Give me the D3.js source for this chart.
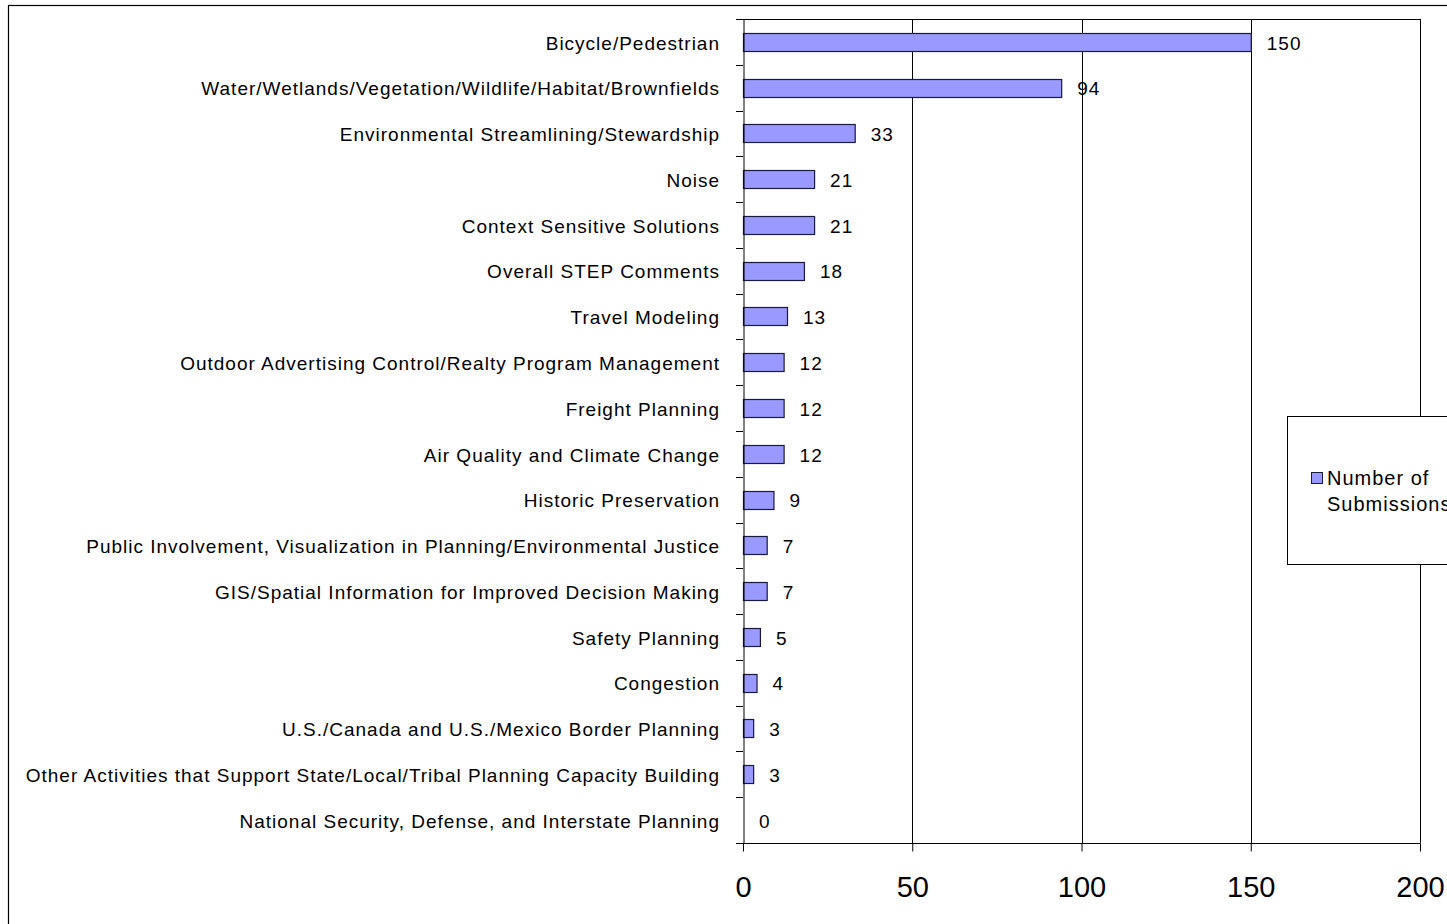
<!DOCTYPE html>
<html><head><meta charset="utf-8">
<script src="https://cdn.jsdelivr.net/npm/d3@7"></script>
<style>body{margin:0;background:#fff}svg{display:block}text{font-family:Arial,"Liberation Sans",sans-serif;fill:#000}</style>
</head><body>
<script>
const categories = [
 "Bicycle/Pedestrian",
 "Water/Wetlands/Vegetation/Wildlife/Habitat/Brownfields",
 "Environmental Streamlining/Stewardship",
 "Noise",
 "Context Sensitive Solutions",
 "Overall STEP Comments",
 "Travel Modeling",
 "Outdoor Advertising Control/Realty Program Management",
 "Freight Planning",
 "Air Quality and Climate Change",
 "Historic Preservation",
 "Public Involvement, Visualization in Planning/Environmental Justice",
 "GIS/Spatial Information for Improved Decision Making",
 "Safety Planning",
 "Congestion",
 "U.S./Canada and U.S./Mexico Border Planning",
 "Other Activities that Support State/Local/Tribal Planning Capacity Building",
 "National Security, Defense, and Interstate Planning"
];
const submissions = [150,94,33,21,21,18,13,12,12,12,9,7,7,5,4,3,3,0];
const xTicks = [0,50,100,150,200];
const seriesName = ["Number of", "Submissions"];

const W=1447,H=924;
const svg=d3.select("body").append("svg").attr("width",W).attr("height",H);
svg.append("rect").attr("x",8.5).attr("y",5.5).attr("width",1600).attr("height",1200)
  .attr("fill","#fff").attr("stroke","#000").attr("stroke-width",1.2);

const L=743,R=1420,T=19,B=843;
const x=d3.scaleLinear().domain([0,200]).range([L,R]);
const y=d3.scaleBand().domain(categories).range([T,B]).paddingInner(0.6).paddingOuter(0.3);
const band=d3.scaleBand().domain(categories).range([T,B]);

// gridlines
svg.append("g").selectAll("line").data(xTicks.slice(1)).join("line")
  .attr("x1",d=>Math.round(x(d))+0.5).attr("x2",d=>Math.round(x(d))+0.5)
  .attr("y1",T).attr("y2",B).attr("stroke","#000").attr("stroke-width",1);
// top border
svg.append("line").attr("x1",L).attr("x2",R+0.5).attr("y1",T+0.5).attr("y2",T+0.5).attr("stroke","#000");

// bars
svg.append("g").selectAll("rect").data(submissions).join("rect")
  .attr("x",L+0.5).attr("y",(d,i)=>Math.round(y(categories[i]))+0.5)
  .attr("width",d=>Math.max(0,x(d)-L)).attr("height",Math.round(y.bandwidth()))
  .attr("fill","#9999ff").attr("stroke","#1a1a40").attr("stroke-width",d=>d>0?1.2:0);

// y axis
const yAxis=d3.axisLeft(band).tickSize(0).tickFormat("");
const ga=svg.append("g").attr("transform",`translate(${L+0.5},0)`).call(yAxis);
ga.select(".domain").attr("stroke","#000");
svg.append("g").selectAll("line").data(d3.range(categories.length+1)).join("line")
  .attr("x1",L-7).attr("x2",L).attr("y1",i=>Math.round(T+i*band.step())+0.5).attr("y2",i=>Math.round(T+i*band.step())+0.5)
  .attr("stroke","#000");
// category labels
svg.append("g").selectAll("text").data(categories).join("text")
  .attr("x",720).attr("y",d=>band(d)+band.bandwidth()/2+1).attr("dy","0.35em")
  .attr("text-anchor","end").attr("font-size",19).attr("letter-spacing","1px").text(d=>d);

// x axis
const xAxis=d3.axisBottom(x).tickValues(xTicks).tickSize(8).tickPadding(25).tickFormat(d3.format("d"));
const gx=svg.append("g").attr("transform",`translate(0,${B+0.5})`).call(xAxis);
gx.select(".domain").remove();
svg.append("line").attr("x1",L-7).attr("x2",R+0.5).attr("y1",B+0.5).attr("y2",B+0.5).attr("stroke","#000");
gx.selectAll(".tick line").attr("stroke","#000");
gx.selectAll(".tick text").attr("font-size",29).attr("font-family","Arial,'Liberation Sans',sans-serif").attr("fill","#000");

// value labels
svg.append("g").selectAll("text").data(submissions).join("text")
  .attr("x",d=>x(d)+16).attr("y",(d,i)=>band(categories[i])+band.bandwidth()/2+1).attr("dy","0.35em")
  .attr("font-size",19).attr("letter-spacing","1px").text(d=>d);

// legend
const lg=svg.append("g");
lg.append("rect").attr("x",1287.5).attr("y",416.5).attr("width",300).attr("height",148)
  .attr("fill","#fff").attr("stroke","#000");
lg.append("rect").attr("x",1311.5).attr("y",472.5).attr("width",11).attr("height",11)
  .attr("fill","#9999ff").attr("stroke","#1a1a40");
lg.selectAll("text.leg").data(seriesName).join("text").attr("class","leg")
  .attr("x",1327).attr("y",(d,i)=>478+i*26).attr("dy","0.35em").attr("font-size",20).attr("letter-spacing","1px").text(d=>d);
</script>
</body></html>
